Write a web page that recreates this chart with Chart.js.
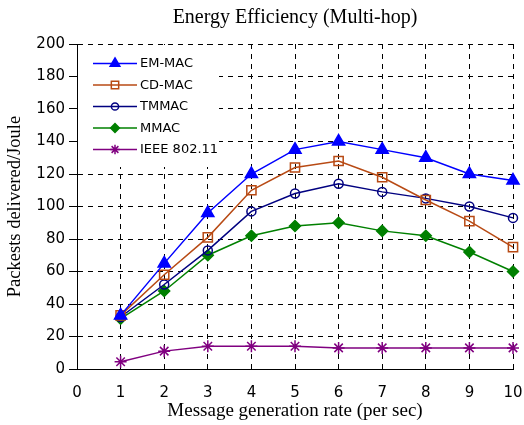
<!DOCTYPE html>
<html>
<head>
<meta charset="utf-8">
<script src="https://cdn.jsdelivr.net/npm/chart.js@4/dist/chart.umd.min.js"></script>
<style>
	html, body { margin: 0; padding: 0; background: #ffffff; }
	#wrap { width: 524px; height: 425px; }
</style>
</head>
<body>
<div id="wrap"><canvas id="energy_chart" width="524" height="425"></canvas></div>
<script>
const rates = [1, 2, 3, 4, 5, 6, 7, 8, 9, 10];
const emMac = [33, 65, 96, 120, 135, 140, 135, 130, 120, 116];
const cdMac = [33, 58, 81, 110, 124, 128, 118, 104, 91, 75];
const tmMac = [32, 52, 73, 97, 108, 114, 109, 105, 100, 93];
const mMac = [31, 48, 70, 82, 88, 90, 85, 82, 72, 60];
const ieee80211 = [4.5, 11, 14, 14, 14, 13, 13, 13, 13, 13];

const sansFont = '"DejaVu Sans", Arial, sans-serif';
const serifFont = '"Liberation Serif", "Times New Roman", serif';

function toPoints(values) {
	return values.map((v, i) => ({ x: rates[i], y: v }));
}

function makeSet(label, values, color, style, radius, filled) {
	return {
		label,
		data: toPoints(values),
		borderColor: color,
		backgroundColor: filled ? color : 'rgba(0,0,0,0)',
		pointBorderColor: color,
		pointBackgroundColor: filled ? color : 'rgba(0,0,0,0)',
		pointStyle: style,
		pointRadius: radius,
		pointHoverRadius: radius,
		pointBorderWidth: 1.5,
		borderWidth: 1.5,
		tension: 0,
		clip: false
	};
}

const datasets = [
	makeSet('EM-MAC', emMac, '#0000ff', 'triangle', 7, true),
	makeSet('CD-MAC', cdMac, '#b84a14', 'rect', 6.5, false),
	makeSet('TMMAC', tmMac, '#000080', 'circle', 4.5, false),
	makeSet('MMAC', mMac, '#008000', 'rectRot', 5.5, true),
	makeSet('IEEE 802.11', ieee80211, '#800080', 'star', 6, false)
];

// legend drawn inside the plot, line + marker like the original
const insideLegend = {
	id: 'insideLegend',
	afterDatasetsDraw(chart) {
		const ctx = chart.ctx;
		const area = chart.chartArea;
		ctx.save();
		ctx.fillStyle = '#ffffff';
		ctx.fillRect(area.left + 1, area.top + 1, 141, 122);
		ctx.font = '13px ' + sansFont;
		ctx.textBaseline = 'middle';
		chart.data.datasets.forEach((ds, i) => {
			const y = area.top + 19.5 + i * 21.5;
			const x1 = area.left + 16;
			const x2 = area.left + 60;
			ctx.strokeStyle = ds.borderColor;
			ctx.lineWidth = 1.5;
			ctx.beginPath();
			ctx.moveTo(x1, y);
			ctx.lineTo(x2, y);
			ctx.stroke();
			ctx.fillStyle = ds.pointBackgroundColor;
			Chart.helpers.drawPoint(ctx, {
				pointStyle: ds.pointStyle,
				radius: ds.pointRadius * 0.8,
				borderWidth: 1.5,
				rotation: 0
			}, (x1 + x2) / 2, y);
			ctx.fillStyle = '#000000';
			ctx.fillText(ds.label, x2 + 3, y + 0.5);
		});
		ctx.restore();
	}
};

new Chart(document.getElementById('energy_chart'), {
	type: 'line',
	data: { datasets },
	plugins: [insideLegend],
	options: {
		responsive: false,
		animation: false,
		events: [],
		layout: { padding: 0 },
		plugins: {
			legend: { display: false },
			tooltip: { enabled: false },
			title: {
				display: true,
				fullSize: false,
				text: 'Energy Efficiency (Multi-hop)',
				color: '#000000',
				font: { family: serifFont, size: 20, weight: 'normal' },
				padding: { top: 6, bottom: 14 }
			}
		},
		scales: {
			x: {
				type: 'linear',
				min: 0,
				max: 10,
				afterFit: scale => {
					scale.height = 56;
					scale.paddingRight = 11;
					scale.paddingLeft = 0;
				},
				ticks: {
					stepSize: 1,
					color: '#000000',
					padding: 15,
					font: { family: sansFont, size: 15 }
				},
				grid: { color: '#000000', lineWidth: 1, drawTicks: false },
				border: { color: '#000000', width: 1, dash: [5, 5] },
				title: {
					display: true,
					text: 'Message generation rate (per sec)',
					color: '#000000',
					font: { family: serifFont, size: 19 },
					padding: { top: 0, bottom: 3 }
				}
			},
			y: {
				min: 0,
				max: 200,
				afterFit: scale => { scale.width = 77; },
				ticks: {
					stepSize: 20,
					color: '#000000',
					padding: 4,
					font: { family: sansFont, size: 15 }
				},
				grid: { color: '#000000', lineWidth: 1, tickLength: 8 },
				border: { color: '#000000', width: 1, dash: [5, 5] },
				title: {
					display: true,
					text: 'Packests delivered/Joule',
					color: '#000000',
					font: { family: serifFont, size: 18.5 },
					padding: { top: 4, bottom: 0 }
				}
			}
		}
	}
});
</script>
</body>
</html>
